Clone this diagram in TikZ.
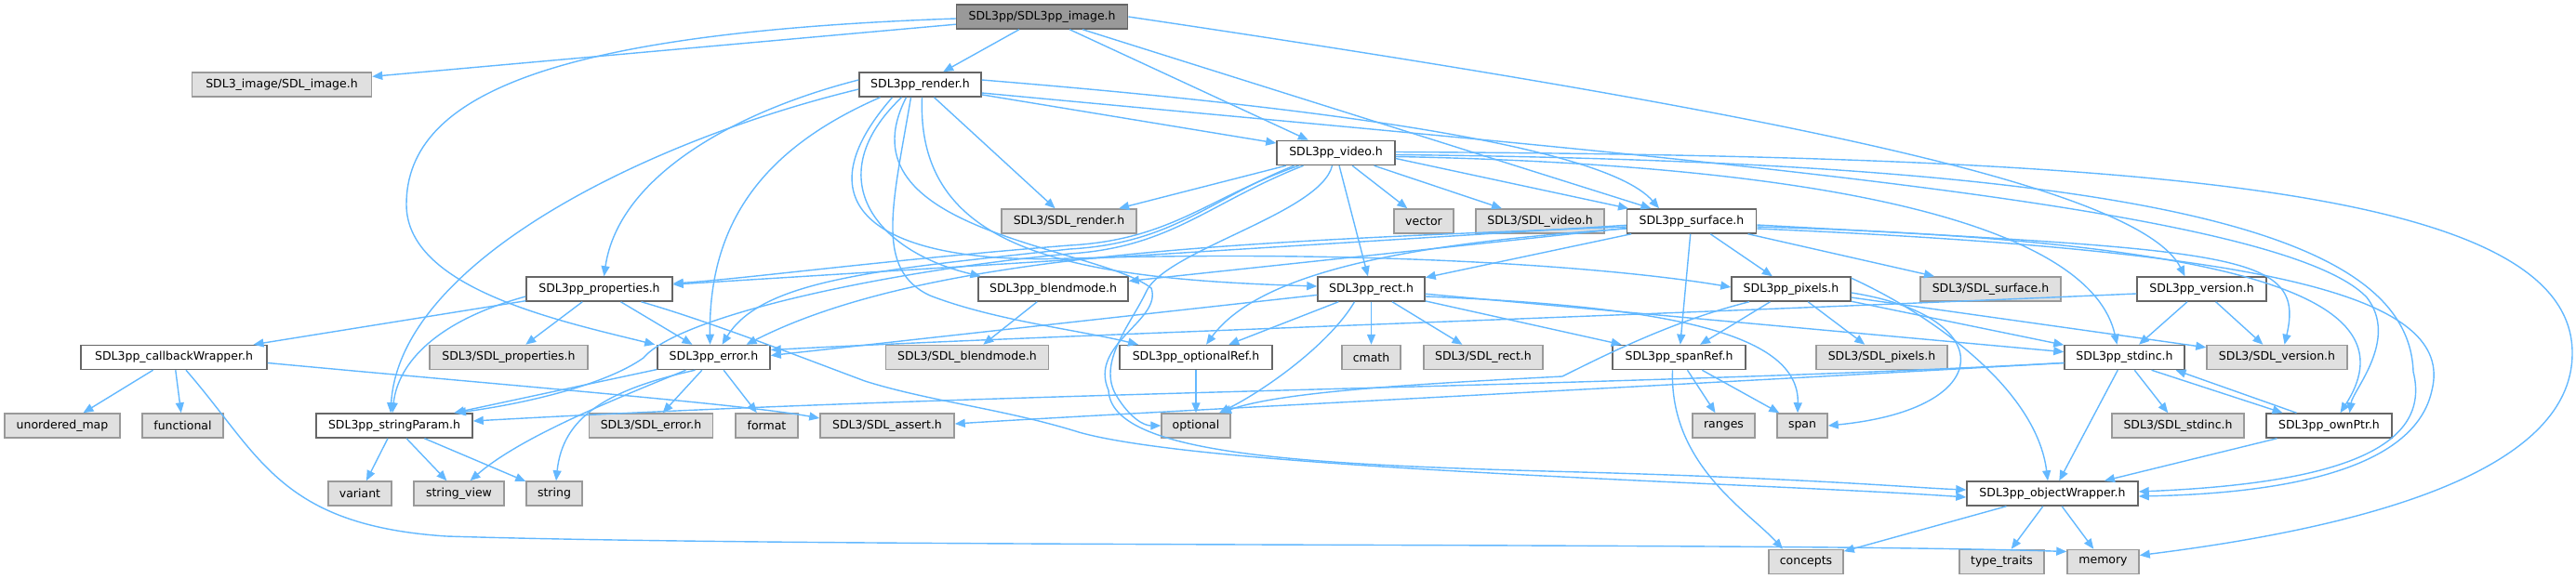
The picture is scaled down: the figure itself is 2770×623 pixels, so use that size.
\documentclass[tikz,border=0pt]{standalone}
\usepackage{fontspec}
\setmainfont{DejaVu Sans}
\usetikzlibrary{arrows.meta}
\definecolor{edgec}{HTML}{63B8FF}
\definecolor{projb}{HTML}{666666}
\definecolor{sysf}{HTML}{E0E0E0}
\definecolor{sysb}{HTML}{999999}
\definecolor{rootf}{HTML}{999999}
\begin{document}
\begin{tikzpicture}[x=1pt,y=-1pt,
  box/.style={draw, rectangle, minimum height=26pt, inner sep=0pt, line width=1.5pt, font=\fontsize{12.5}{15}\selectfont},
  proj/.style={box, fill=white, draw=projb},
  sys/.style={box, fill=sysf, draw=sysb},
  root/.style={box, fill=rootf, draw=projb},
  dep/.style={draw=edgec, line width=1.4pt, -{Triangle[length=11pt,width=9pt]}}]
\useasboundingbox (0,0) rectangle (2770,623);
% nodes
\node[root,minimum width=184pt] (img) at (1120.6,18) {SDL3pp/SDL3pp\_image.h};
\node[sys,minimum width=193pt] (simg) at (303,91) {SDL3\_image/SDL\_image.h};
\node[proj,minimum width=131pt] (rnd) at (989.5,91) {SDL3pp\_render.h};
\node[proj,minimum width=127pt] (vid) at (1436.5,164.5) {SDL3pp\_video.h};
\node[sys,minimum width=145pt] (srnd) at (1149.5,238) {SDL3/SDL\_render.h};
\node[sys,minimum width=64pt] (vec) at (1531,238) {vector};
\node[sys,minimum width=138pt] (svid) at (1656,238) {SDL3/SDL\_video.h};
\node[proj,minimum width=139pt] (srf) at (1819,238) {SDL3pp\_surface.h};
\node[proj,minimum width=157pt] (prop) at (644.5,311) {SDL3pp\_properties.h};
\node[proj,minimum width=161pt] (blend) at (1132.5,311) {SDL3pp\_blendmode.h};
\node[proj,minimum width=115pt] (rect) at (1474.5,311) {SDL3pp\_rect.h};
\node[proj,minimum width=128pt] (pix) at (1926,311) {SDL3pp\_pixels.h};
\node[sys,minimum width=151pt] (ssrf) at (2140.5,311) {SDL3/SDL\_surface.h};
\node[proj,minimum width=139pt] (ver) at (2367.5,311) {SDL3pp\_version.h};
\node[proj,minimum width=200pt] (cbw) at (187,384.5) {SDL3pp\_callbackWrapper.h};
\node[sys,minimum width=170pt] (sprop) at (547,384.5) {SDL3/SDL\_properties.h};
\node[proj,minimum width=121pt] (err) at (767.5,384.5) {SDL3pp\_error.h};
\node[sys,minimum width=175pt] (sblend) at (1040,384.5) {SDL3/SDL\_blendmode.h};
\node[proj,minimum width=164pt] (optr) at (1286,384.5) {SDL3pp\_optionalRef.h};
\node[sys,minimum width=63pt] (cmath) at (1474.5,384.5) {cmath};
\node[sys,minimum width=128pt] (srect) at (1595,384.5) {SDL3/SDL\_rect.h};
\node[proj,minimum width=143pt] (spref) at (1805.5,384.5) {SDL3pp\_spanRef.h};
\node[sys,minimum width=141pt] (spix) at (2023.5,384.5) {SDL3/SDL\_pixels.h};
\node[proj,minimum width=129pt] (std) at (2284.5,384.5) {SDL3pp\_stdinc.h};
\node[sys,minimum width=151pt] (sver) at (2448.5,384.5) {SDL3/SDL\_version.h};
\node[sys,minimum width=124pt] (umap) at (67,458) {unordered\_map};
\node[sys,minimum width=87pt] (func) at (196.5,458) {functional};
\node[proj,minimum width=168pt] (sparam) at (424,458) {SDL3pp\_stringParam.h};
\node[sys,minimum width=133pt] (serr) at (700,458) {SDL3/SDL\_error.h};
\node[sys,minimum width=67pt] (fmt) at (824.5,458) {format};
\node[sys,minimum width=144pt] (sassert) at (954,458) {SDL3/SDL\_assert.h};
\node[sys,minimum width=74pt] (opt) at (1286,458) {optional};
\node[sys,minimum width=67pt] (ranges) at (1853.5,458) {ranges};
\node[sys,minimum width=54pt] (span) at (1938,458) {span};
\node[sys,minimum width=142pt] (sstd) at (2342,458) {SDL3/SDL\_stdinc.h};
\node[proj,minimum width=135pt] (own) at (2504.5,458) {SDL3pp\_ownPtr.h};
\node[sys,minimum width=68pt] (var) at (387,531) {variant};
\node[sys,minimum width=97pt] (sview) at (493.5,531) {string\_view};
\node[sys,minimum width=60pt] (str) at (596,531) {string};
\node[proj,minimum width=184pt] (obj) at (2207,531) {SDL3pp\_objectWrapper.h};
\node[sys,minimum width=80pt] (conc) at (1942,604.5) {concepts};
\node[sys,minimum width=91pt] (tt) at (2152.5,604.5) {type\_traits};
\node[sys,minimum width=77pt] (mem) at (2261.5,604.5) {memory};
% image
\draw[dep] (img) -- (simg);
\draw[dep] (img) -- (rnd);
\draw[dep] (img) -- (vid);
\draw[dep] (img) -- (srf);
\draw[dep] (img.east) .. controls (1900,120) and (2300,200) .. ([xshift=-18pt]ver.north);
\draw[dep] ([yshift=-2pt]img.west) .. controls (600,35) and (437,100) .. (437,220) .. controls (437,310) and (600,345) .. ([xshift=-2pt]err.north west);
% render
\draw[dep] (rnd) -- (vid);
\draw[dep] (rnd) -- (srnd);
\draw[dep] ([yshift=5pt]rnd.east) .. controls (1350,110) and (1720,150) .. ([xshift=-35pt]srf.north);
\draw[dep] ([yshift=5pt]rnd.west) .. controls (790,120) and (665,190) .. ([xshift=5pt]prop.north);
\draw[dep] ([yshift=-5pt]rnd.west) .. controls (700,150) and (430,280) .. ([xshift=-4pt]sparam.north);
\draw[dep] ([xshift=-43pt]rnd.south) .. controls (820,160) and (762,240) .. ([xshift=-4pt]err.north);
\draw[dep] ([xshift=-20pt]rnd.south) .. controls (880,190) and (940,270) .. ([xshift=-78pt]blend.north);
\draw[dep] ([xshift=-10pt]rnd.south) .. controls (960,220) and (940,290) .. (1000,318) .. controls (1070,345) and (1160,355) .. ([xshift=-62pt]optr.north);
\draw[dep] ([xshift=2pt]rnd.south) .. controls (985,270) and (1150,300) .. ([yshift=3pt]rect.west);
\draw[dep] ([xshift=-30pt]rnd.south) .. controls (850,230) and (960,285) .. (1150,278) .. controls (1500,268) and (1750,290) .. ([yshift=2pt]pix.west);
\draw[dep] ([xshift=-15pt]rnd.south) .. controls (900,250) and (1180,265) .. (1238,310) .. controls (1250,345) and (1170,370) .. (1192,420) .. controls (1195,490) and (1400,500) .. (1700,508) .. controls (1950,515) and (2060,525) .. ([yshift=4pt]obj.west);
\draw[dep] ([yshift=-9pt]rnd.east) .. controls (1800,170) and (2450,220) .. (2545,320) .. controls (2580,365) and (2530,420) .. ([xshift=22pt]own.north);
% video
\draw[dep] (vid) -- (srnd);
\draw[dep] (vid) -- (vec);
\draw[dep] (vid) -- (svid);
\draw[dep] (vid) -- (rect);
\draw[dep] ([yshift=-6pt]vid.east) -- ([xshift=-68pt]srf.north);
\draw[dep] ([xshift=-45pt]vid.south) .. controls (1300,215) and (1260,262) .. (1150,268) .. controls (950,290) and (820,300) .. ([xshift=9pt]err.north);
\draw[dep] ([xshift=-40pt]vid.south) .. controls (1300,212) and (1260,258) .. (1150,264) .. controls (950,280) and (800,300) .. ([yshift=6pt]prop.east);
\draw[dep] ([xshift=-35pt]vid.south) .. controls (1300,218) and (1260,266) .. (1150,273) .. controls (950,292) and (730,340) .. (692,385) .. controls (650,415) and (560,435) .. ([xshift=66pt]sparam.north);
\draw[dep] ([xshift=-4pt]vid.south) .. controls (1420,230) and (1250,270) .. (1232,315) .. controls (1215,350) and (1180,390) .. (1200,425) .. controls (1215,450) and (1230,458) .. (opt.west);
\draw[dep] ([yshift=1pt]vid.east) .. controls (2300,168) and (2766,200) .. (2766,380) .. controls (2766,490) and (2600,560) .. ([yshift=7pt]mem.east);
\draw[dep] ([yshift=-2pt]vid.east) .. controls (2350,175) and (2590,260) .. (2595,400) .. controls (2615,480) and (2520,520) .. ([yshift=2pt]obj.east);
\draw[dep] ([yshift=-4pt]vid.east) .. controls (2000,178) and (2250,250) .. ([xshift=-8pt]std.north);
% surface
\draw[dep] (srf) -- (pix);
\draw[dep] (srf) -- (ssrf);
\draw[dep] (srf) -- (spref);
\draw[dep] (srf) -- (rect);
\draw[dep] (srf) -- (prop);
\draw[dep] (srf) -- (blend);
\draw[dep] ([yshift=-6pt]srf.west) .. controls (1350,260) and (1000,270) .. ([xshift=35pt]err.north);
\draw[dep] ([yshift=-8pt]srf.west) .. controls (1550,260) and (1360,285) .. ([xshift=11pt]optr.north);
\draw[dep] ([yshift=-4pt]srf.east) .. controls (2400,270) and (2480,270) .. ([xshift=8pt]sver.north);
\draw[dep] ([yshift=-6pt]srf.east) .. controls (2450,260) and (2590,330) .. ([xshift=12pt]own.north);
\draw[dep] ([yshift=-8pt]srf.east) .. controls (2450,270) and (2640,320) .. (2615,420) .. controls (2600,490) and (2500,530) .. ([yshift=-3pt]obj.east);
% pixels
\draw[dep] (pix) -- (spix);
\draw[dep] (pix) -- (spref);
\draw[dep] (pix) -- (std);
\draw[dep] (pix) -- (sver);
\draw[dep] ([yshift=-4pt]pix.east) .. controls (2150,340) and (2150,440) .. (span.east);
\draw[dep] ([xshift=-45pt]pix.south) .. controls (1800,345) and (1730,380) .. (1680,405) .. controls (1550,412) and (1380,420) .. ([xshift=27pt]opt.north);
\draw[dep] ([yshift=-2pt]pix.north east) .. controls (2080,340) and (2190,420) .. ([xshift=-5pt]obj.north);
% version
\draw[dep] (ver) -- (std);
\draw[dep] (ver) -- (sver);
\draw[dep] ([yshift=-5pt]ver.west) .. controls (1800,338) and (1100,362) .. ([yshift=8pt]err.east);
% rect
\draw[dep] (rect) -- (cmath);
\draw[dep] (rect) -- (srect);
\draw[dep] (rect) -- (optr);
\draw[dep] (rect) -- (spref);
\draw[dep] (rect) -- (std);
\draw[dep] (rect) -- ([yshift=2pt]err.east);
\draw[dep] ([xshift=-18pt]rect.south) .. controls (1430,370) and (1360,420) .. ([xshift=25pt]opt.north);
\draw[dep] ([yshift=-8pt]rect.east) .. controls (1800,330) and (1935,360) .. ([xshift=-5pt]span.north);
% properties
\draw[dep] (prop) -- (cbw);
\draw[dep] (prop) -- (sprop);
\draw[dep] (prop) -- (err);
\draw[dep] ([yshift=-8pt]prop.west) .. controls (470,345) and (428,390) .. ([xshift=-2pt]sparam.north);
\draw[dep] ([xshift=45pt]prop.south) .. controls (760,345) and (850,380) .. (930,410) .. controls (1000,432) and (1080,440) .. (1160,465) .. controls (1300,505) and (1900,520) .. ([yshift=-4pt]obj.west);
% blendmode
\draw[dep] (blend) -- (sblend);
% error
\draw[dep] (err) -- (serr);
\draw[dep] (err) -- (fmt);
\draw[dep] (err) -- (sparam);
\draw[dep] ([xshift=-30pt]err.south) .. controls (660,430) and (560,470) .. ([xshift=12pt]sview.north);
\draw[dep] ([xshift=-20pt]err.south) .. controls (650,420) and (605,450) .. ([xshift=2pt]str.north);
% callbackWrapper
\draw[dep] (cbw) -- (umap);
\draw[dep] (cbw) -- (func);
\draw[dep] ([yshift=-6pt]cbw.east) .. controls (550,415) and (800,435) .. ([yshift=8pt]sassert.west);
\draw[dep] ([xshift=13pt]cbw.south) .. controls (280,490) and (300,565) .. (480,577) .. controls (900,590) and (1900,583) .. ([yshift=11pt]mem.west);
% stringParam
\draw[dep] (sparam) -- (var);
\draw[dep] (sparam) -- (sview);
\draw[dep] (sparam) -- (str);
% optionalRef
\draw[dep] (optr) -- (opt);
% spanRef
\draw[dep] (spref) -- (ranges);
\draw[dep] (spref) -- (span);
\draw[dep] ([xshift=-7pt]spref.south) .. controls (1795,500) and (1880,550) .. ([xshift=-25pt]conc.north);
% stdinc
\draw[dep] (std) -- (sstd);
\draw[dep] (std) -- (obj);
\draw[dep] ([xshift=29pt]std.south) -- ([xshift=-50pt]own.north);
\draw[dep] ([xshift=-35pt]own.north) -- ([xshift=55pt]std.south);
\draw[dep] ([yshift=-6pt]std.west) .. controls (1700,420) and (1200,445) .. ([yshift=2pt]sassert.east);
\draw[dep] ([yshift=-6pt]std.west) .. controls (1700,418) and (1100,420) .. ([yshift=5pt]sparam.east);
% ownPtr
\draw[dep] (own) -- (obj);
% objectWrapper
\draw[dep] (obj) -- (conc);
\draw[dep] (obj) -- (tt);
\draw[dep] (obj) -- (mem);
\end{tikzpicture}
\end{document}
